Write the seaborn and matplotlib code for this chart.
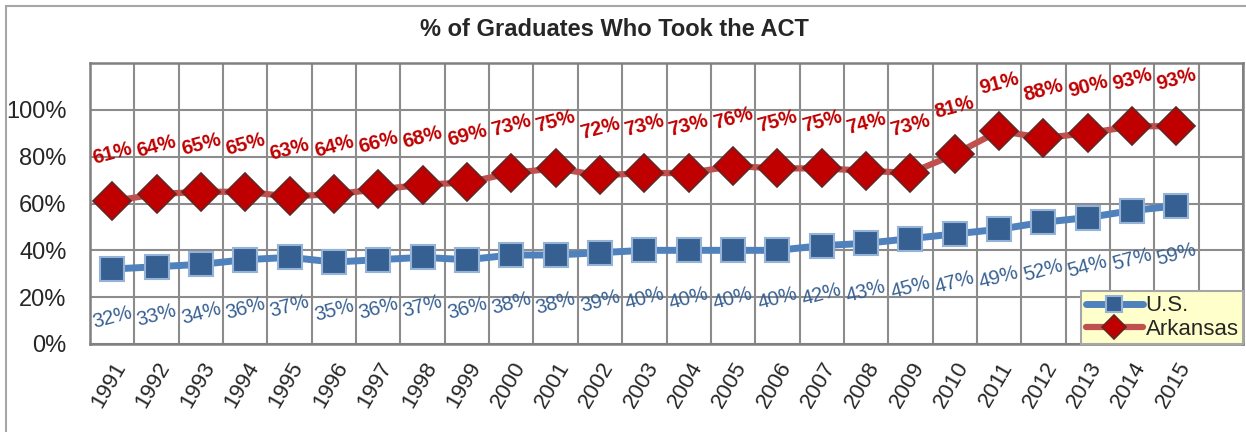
import numpy as np
import pandas as pd
import seaborn as sns
import matplotlib.pyplot as plt
from matplotlib.patches import Rectangle

years = list(range(1991, 2016))
us_pct = [32, 33, 34, 36, 37, 35, 36, 37, 36, 38, 38, 39, 40, 40, 40, 40, 42, 43, 45, 47, 49, 52, 54, 57, 59]
ark_pct = [61, 64, 65, 65, 63, 64, 66, 68, 69, 73, 75, 72, 73, 73, 76, 75, 75, 74, 73, 81, 91, 88, 90, 93, 93]
y_ticks = [0, 20, 40, 60, 80, 100]

df = pd.DataFrame({'Year': years, 'U.S.': us_pct, 'Arkansas': ark_pct})

sns.set_theme(style='white')
plt.rcParams['font.family'] = ['Liberation Sans Narrow', 'Liberation Sans', 'DejaVu Sans']

f = plt.figure(figsize=(12.46, 4.32), dpi=100)
ax = f.add_axes([90 / 1246, 88 / 432, 1153 / 1246, 281 / 432])

# figure frame
f.patches.append(Rectangle((6 / 1246, -0.1), 2, 1.1 - 6 / 432, transform=f.transFigure,
                           fill=False, edgecolor='#a6a6a6', linewidth=1.5, zorder=0))

sns.lineplot(data=df, x='Year', y='U.S.', ax=ax, color='#4f81bd', linewidth=5,
             marker='s', markersize=17, markerfacecolor='#376092',
             markeredgecolor='#95b3d7', markeredgewidth=1.5, label='U.S.', zorder=3)
sns.lineplot(data=df, x='Year', y='Arkansas', ax=ax, color='#c0504d', linewidth=4.5,
             marker='D', markersize=19, markerfacecolor='#c00000',
             markeredgecolor='#632523', markeredgewidth=1.2, label='Arkansas', zorder=4)

for yr, v in zip(years, ark_pct):
    ax.annotate(f'{v}%', (yr, v), xytext=(0, 34), textcoords='offset points',
                ha='center', va='center', rotation=15, fontsize=14.5,
                fontweight='bold', color='#c00000')
for yr, v in zip(years, us_pct):
    ax.annotate(f'{v}%', (yr, v), xytext=(0, -35), textcoords='offset points',
                ha='center', va='center', rotation=15, fontsize=14.5,
                color='#376092')

ax.set_xlim(1990.5, 2016.5)
ax.set_ylim(0, 120)
ax.set_xticks(years)
ax.set_xticklabels([str(y) for y in years], rotation=60, ha='right',
                   rotation_mode='anchor', fontsize=16)
ax.set_xticks(np.arange(1990.5, 2017, 1), minor=True)
ax.set_yticks(y_ticks)
ax.set_yticks([120], minor=True)
ax.set_yticklabels([f'{t}%' for t in y_ticks], fontsize=17)
ax.tick_params(axis='both', which='both', length=0)
ax.tick_params(axis='y', pad=17)
ax.tick_params(axis='x', pad=10)
ax.grid(False)
ax.grid(True, axis='x', which='minor', color='#8c8c8c', linewidth=1.5)
ax.grid(True, axis='y', which='major', color='#8c8c8c', linewidth=1.5)
ax.set_axisbelow(True)
for s in ax.spines.values():
    s.set_color('#808080')
    s.set_linewidth(1.8)
ax.set_xlabel('')
ax.set_ylabel('')

f.suptitle('% of Graduates Who Took the ACT', fontsize=17, fontweight='bold',
           x=614 / 1246, y=1 - 30 / 432, va='center')

leg = ax.legend(loc='lower right', bbox_to_anchor=(1.0, 0.0), borderaxespad=0,
                fontsize=16, frameon=True, fancybox=False, framealpha=1,
                facecolor='#ffffcc', edgecolor='#a6a6a6', handlelength=2.6,
                handletextpad=0.1, labelspacing=0.1, borderpad=0.2)
leg.get_frame().set_linewidth(1.5)
for h in leg.legend_handles:
    h.set_markersize(12)

plt.savefig('out.png', dpi=100)
